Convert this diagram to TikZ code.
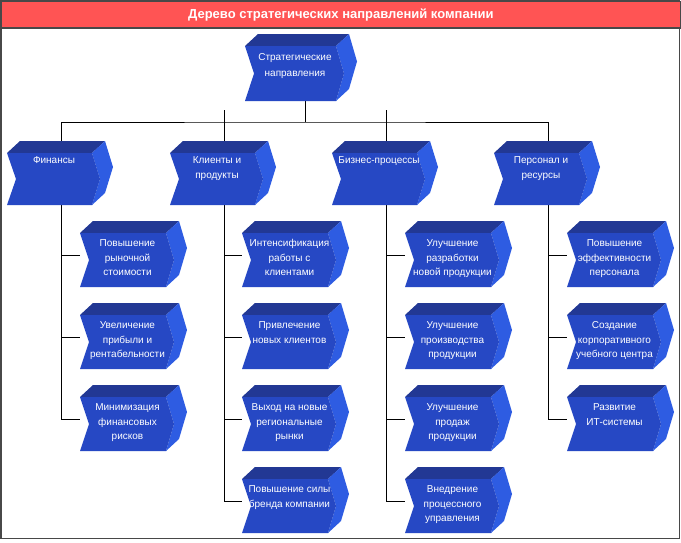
\documentclass[tikz,border=0pt]{standalone}
\usepackage{fontspec}
\setmainfont{Liberation Sans}
\usetikzlibrary{calc}
\definecolor{frontc}{RGB}{38,72,196}
\definecolor{topc}{RGB}{34,56,148}
\definecolor{sidec}{RGB}{46,92,226}
\definecolor{titlec}{RGB}{255,84,84}
\definecolor{framec}{RGB}{72,72,72}
\pgfdeclarelayer{back}
\pgfdeclarelayer{lines}
\pgfdeclarelayer{background}
\pgfsetlayers{back,lines,background,main}
\tikzset{
  face/.style={rectangle, inner sep=0pt, outer sep=0pt, anchor=north west, minimum width=86pt, minimum height=54pt},
  catface/.style={face, minimum width=85pt, minimum height=52pt},
  topface/.style={face, minimum width=91pt, minimum height=55pt},
  lbl/.style={anchor=north, align=center, text=white, inner sep=0pt, font=\fontsize{10}{14.5}\selectfont},
  toplbl/.style={lbl, font=\fontsize{10}{15.5}\selectfont},
  conn/.style={draw=black, line width=0.8pt},
}
\newcommand\chevfaces[1]{%
  \begin{pgfonlayer}{background}
  \fill[topc] (#1.north west) -- ([shift={(13pt,12pt)}]#1.north west) -- ([shift={(13pt,12pt)}]#1.north east) -- (#1.north east) -- cycle;
  \fill[sidec] (#1.north east) -- ([shift={(13pt,12pt)}]#1.north east) -- ([shift={(21pt,12pt)}]#1.east) -- ([shift={(13pt,12pt)}]#1.south east) -- (#1.south east) -- ([xshift=8pt]#1.east) -- cycle;
  \fill[frontc] (#1.north west) -- (#1.north east) -- ([xshift=8pt]#1.east) -- (#1.south east) -- (#1.south west) -- ([xshift=9pt]#1.west) -- cycle;
  \end{pgfonlayer}}
% #1 name, #2 style, #3 x, #4 y, #5 label style, #6 text offset, #7 text
\newcommand\chev[7]{%
  \node[#2] (#1) at (#3,#4) {};
  \chevfaces{#1}
  \node[#5] (#1-t) at ([xshift=4.5pt,yshift=-#6pt]#1.north) {#7};}
\begin{document}
\begin{tikzpicture}[x=1pt,y=-1pt]
\useasboundingbox (0,0) rectangle (681,542);
% frame and title
\begin{pgfonlayer}{back}
\draw[framec, line width=1.5pt, fill=white] (0.75,0.75) rectangle (679.5,538.5);
\end{pgfonlayer}
\node[draw=framec, line width=1.5pt, fill=titlec, anchor=north west, minimum width=678.75pt, minimum height=26.5pt, inner sep=0pt] (title) at (0.75,0.75) {};
\node[text=white, font=\fontsize{13}{15}\selectfont\bfseries] (title-t) at (title.center) {Дерево стратегических направлений компании};
% top node
\chev{top}{topface}{245}{46}{toplbl}{7.5}{Стратегические\\направления}
% categories
\chev{c1}{catface}{7}{153}{lbl}{3.5}{Финансы}
\chev{c2}{catface}{170}{153}{lbl}{3.5}{Клиенты и\\продукты}
\chev{c3}{catface}{332}{153}{lbl}{3.5}{Бизнес-процессы}
\chev{c4}{catface}{494}{153}{lbl}{3.5}{Персонал и\\ресурсы}
% column 1
\chev{k11}{face}{80}{233}{lbl}{6.5}{Повышение\\рыночной\\стоимости}
\chev{k12}{face}{80}{315}{lbl}{6.5}{Увеличение\\прибыли и\\рентабельности}
\chev{k13}{face}{80}{397}{lbl}{6.5}{Минимизация\\финансовых\\рисков}
% column 2
\chev{k21}{face}{242}{233}{lbl}{6.5}{Интенсификация\\работы с\\клиентами}
\chev{k22}{face}{242}{315}{lbl}{6.5}{Привлечение\\новых клиентов}
\chev{k23}{face}{242}{397}{lbl}{6.5}{Выход на новые\\региональные\\рынки}
\chev{k24}{face}{242}{479}{lbl}{6.5}{Повышение силы\\бренда компании}
% column 3
\chev{k31}{face}{405}{233}{lbl}{6.5}{Улучшение\\разработки\\новой продукции}
\chev{k32}{face}{405}{315}{lbl}{6.5}{Улучшение\\производства\\продукции}
\chev{k33}{face}{405}{397}{lbl}{6.5}{Улучшение\\продаж\\продукции}
\chev{k34}{face}{405}{479}{lbl}{6.5}{Внедрение\\процессного\\управления}
% column 4
\chev{k41}{face}{567}{233}{lbl}{6.5}{Повышение\\эффективности\\персонала}
\chev{k42}{face}{567}{315}{lbl}{6.5}{Создание\\корпоративного\\учебного центра}
\chev{k43}{face}{567}{397}{lbl}{6.5}{Развитие\\ИТ-системы}
% connectors
\begin{pgfonlayer}{lines}
\coordinate (bus) at ([xshift=14.5pt,yshift=-21pt]top.south);
\draw[conn] ([xshift=14.5pt]top.south) -- (bus);
\draw[conn] ([xshift=11.5pt,yshift=12pt]c1.north) |- (bus) -| ([xshift=11.5pt,yshift=12pt]c4.north);
\draw[conn] ([xshift=11.5pt,yshift=12pt]c2.north) -- ([xshift=11.5pt,yshift=12pt]c2.north |- bus);
\draw[conn] ([xshift=11.5pt,yshift=12pt]c3.north) -- ([xshift=11.5pt,yshift=12pt]c3.north |- bus);
\foreach \c/\kids in {c1/{k11,k12,k13}, c2/{k21,k22,k23,k24}, c3/{k31,k32,k33,k34}, c4/{k41,k42,k43}}{
  \foreach \k in \kids {
    \draw[conn] ([xshift=11.5pt]\c.south) |- ([yshift=5pt]\k.west);
  }
}
\end{pgfonlayer}
\end{tikzpicture}
\end{document}
